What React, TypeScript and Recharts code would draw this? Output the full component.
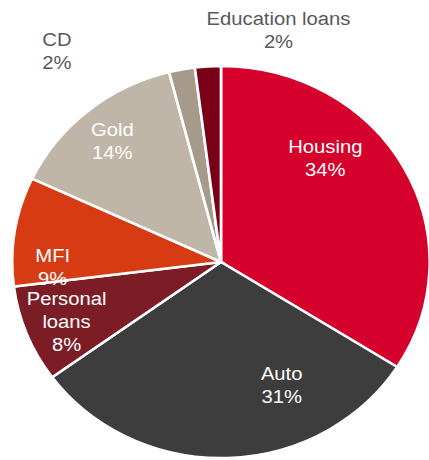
import React from 'react'
import { PieChart, Pie, Cell } from 'recharts'

// loan book mix, clockwise from 12 o'clock
const categories = ['Housing', 'Auto', 'Personal loans', 'MFI', 'Gold', 'CD', 'Education loans']
const shares = [34, 31, 8, 9, 14, 2, 2]
const colors = ['#d5002b', '#3d3d3d', '#7c1d26', '#d63b14', '#bfb6a8', '#a69a8a', '#7a0019']

// label text lines and where they sit, relative to the pie centre
const labelLines = [
  ['Housing', '34%'],
  ['Auto', '31%'],
  ['Personal', 'loans', '8%'],
  ['MFI', '9%'],
  ['Gold', '14%'],
  ['CD', '2%'],
  ['Education loans', '2%'],
]
const labelOffsets = [
  [98, -109],
  [57, 118],
  [-145, 43],
  [-158, 0],
  [-102, -126],
  [-154, -216],
  [54, -237],
]
const insideLabel = [true, true, true, true, true, false, false]

const data = categories.map((name, i) => ({ name, value: shares[i] }))

const STRETCH = 1.065
const W = 429 / STRETCH

const renderLabel = (props: any) => {
  const { cx, cy, index } = props
  const [dx, dy] = labelOffsets[index]
  const lines = labelLines[index]
  return (
    <text
      key={`lbl-${index}`}
      x={cx + dx}
      y={cy + dy}
      textAnchor="middle"
      fontSize={19}
      fontFamily="'Liberation Sans', Arial, sans-serif"
      fill={insideLabel[index] ? '#ffffff' : '#595959'}
    >
      {lines.map((t, j) => (
        <tspan key={j} x={cx + dx} dy={j === 0 ? 0 : 23}>
          {t}
        </tspan>
      ))}
    </text>
  )
}

export default function App() {
  return (
    <div style={{ position: 'absolute', left: 0, top: 0, width: 429, height: 460, overflow: 'hidden', background: '#fff' }}>
      <div style={{ width: W, height: 460, transform: `scaleX(${STRETCH})`, transformOrigin: '0 0' }}>
        <PieChart width={W} height={460} margin={{ top: 0, right: 0, bottom: 0, left: 0 }}>
          <Pie
            data={data}
            dataKey="value"
            nameKey="name"
            cx={207.5}
            cy={262}
            outerRadius={196}
            startAngle={90}
            endAngle={-270}
            stroke="#ffffff"
            strokeWidth={2.5}
            label={renderLabel}
            labelLine={false}
            isAnimationActive={false}
          >
            {data.map((entry, index) => (
              <Cell key={`cell-${index}`} fill={colors[index]} />
            ))}
          </Pie>
        </PieChart>
      </div>
    </div>
  )
}
